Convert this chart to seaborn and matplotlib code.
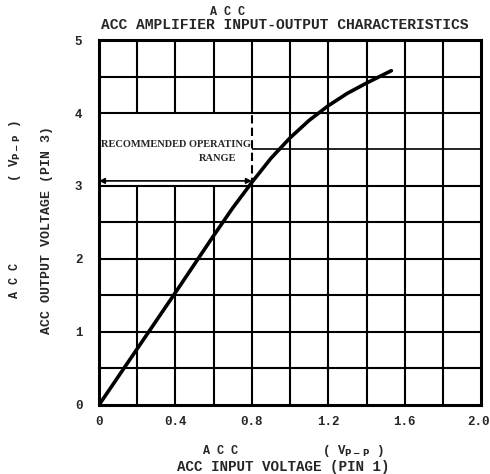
import numpy as np
import pandas as pd
import matplotlib
matplotlib.use("Agg")
import matplotlib.pyplot as plt
import seaborn as sns

# Curve
input_vpp = [0.0, 0.2, 0.4, 0.6, 0.7, 0.8, 0.9, 1.0, 1.1, 1.2, 1.3, 1.4, 1.53]
output_vpp = [0.0, 0.77, 1.54, 2.32, 2.7, 3.05, 3.38, 3.66, 3.9, 4.1, 4.27, 4.41, 4.58]

x_ticks = [0.0, 0.4, 0.8, 1.2, 1.6, 2.0]
x_tick_labels = ["0", "0.4", "0.8", "1.2", "1.6", "2.0"]
y_ticks = [0, 1, 2, 3, 4, 5]
y_tick_labels = ["0", "1", "2", "3", "4", "5"]

x_grid = [0.2, 0.4, 0.6, 0.8, 1.0, 1.2, 1.4, 1.6, 1.8]
y_grid = [0.5, 1.0, 1.5, 2.0, 2.5, 3.0, 3.5, 4.0, 4.5]

# recommended operating range box (no grid inside)
range_x = 0.8
range_lo, range_hi = 3.0, 4.0

sns.set_style("white")
plt.rcParams['font.family'] = ['Liberation Mono', 'DejaVu Sans Mono']
plt.rcParams['font.weight'] = 'bold'

fig = plt.figure(figsize=(4.9, 4.74), dpi=100)
ax = fig.add_axes([0.202, 0.1456, 0.78, 0.77])

# grid, leaving the operating-range box empty
for gx in x_grid:
    if gx < range_x:
        ax.vlines(gx, 0, range_lo, color='black', lw=1.5)
        ax.vlines(gx, range_hi, 5, color='black', lw=1.5)
    elif gx == range_x:
        ax.vlines(gx, 0, range_lo, color='black', lw=1.5)
        ax.vlines(gx, range_lo, range_hi, color='black', lw=1.5, linestyles=(0, (4, 2)))
        ax.vlines(gx, range_hi, 5, color='black', lw=1.5)
    else:
        ax.vlines(gx, 0, 5, color='black', lw=1.5)
for gy in y_grid:
    if range_lo < gy < range_hi:
        ax.hlines(gy, range_x, 2.0, color='black', lw=1.2)
    else:
        ax.hlines(gy, 0, 2.0, color='black', lw=1.5)

df = pd.DataFrame({'vin': input_vpp, 'vout': output_vpp})
sns.lineplot(data=df, x='vin', y='vout', ax=ax, color='black', lw=2.6, zorder=5)

# operating range arrow and label
ax.annotate('', xy=(0, 3.07), xytext=(range_x, 3.07),
            arrowprops=dict(arrowstyle='<|-|>', color='black', lw=1.2,
                            mutation_scale=8, shrinkA=0, shrinkB=0))
ax.text(0.01, 3.57, 'RECOMMENDED OPERATING', family='Liberation Serif',
        fontsize=7.5, weight='bold', va='center', ha='left')
ax.text(0.62, 3.37, 'RANGE', family='Liberation Serif',
        fontsize=7.5, weight='bold', va='center', ha='center')

ax.set_xlim(0, 2.0)
ax.set_ylim(0, 5)
ax.set_xticks(x_ticks)
# last label sits at the figure edge, drawn separately so it is not cut
ax.set_xticklabels(x_tick_labels[:-1] + [""], fontsize=9, weight='bold')
ax.annotate(x_tick_labels[-1], xy=(x_ticks[-1], 0), xycoords=('data', 'axes fraction'),
            xytext=(6, -12), textcoords='offset points', ha='right', va='center',
            fontsize=9, weight='bold')
ax.set_yticks(y_ticks)
ax.set_yticklabels(y_tick_labels, fontsize=9, weight='bold')
ax.tick_params(axis='x', length=0, pad=8)
ax.tick_params(axis='y', length=0, pad=12)
ax.set_xlabel('')
ax.set_ylabel('')
for s in ax.spines.values():
    s.set_visible(True)
    s.set_color('black')
    s.set_linewidth(2.2)

# titles and axis labels
fig.text(227 / 490, 1 - 12 / 474, 'A C C', ha='center', va='center', fontsize=8.5, weight='bold')
fig.text(285 / 490, 1 - 25 / 474, 'ACC AMPLIFIER INPUT-OUTPUT CHARACTERISTICS',
         ha='center', va='center', fontsize=10.5, weight='bold')
fig.text(220 / 490, 1 - 451 / 474, 'A C C', ha='center', va='center', fontsize=8.5, weight='bold')
fig.text(353 / 490, 1 - 451 / 474, '( V$_{\\mathbf{P-P}}$ )', ha='center', va='center', fontsize=9, weight='bold')
fig.text(283 / 490, 1 - 467 / 474, 'ACC INPUT VOLTAGE (PIN 1)', ha='center', va='center', fontsize=10.3, weight='bold')
fig.text(15 / 490, 1 - 280 / 474, 'A C C', ha='center', va='center', rotation=90, fontsize=8.5, weight='bold')
fig.text(15 / 490, 1 - 151 / 474, '( V$_{\\mathbf{P-P}}$ )', ha='center', va='center', rotation=90, fontsize=9, weight='bold')
fig.text(47 / 490, 1 - 230 / 474, 'ACC OUTPUT VOLTAGE (PIN 3)', ha='center', va='center', rotation=90, fontsize=9.5, weight='bold')

fig.savefig('out.png', dpi=100)
